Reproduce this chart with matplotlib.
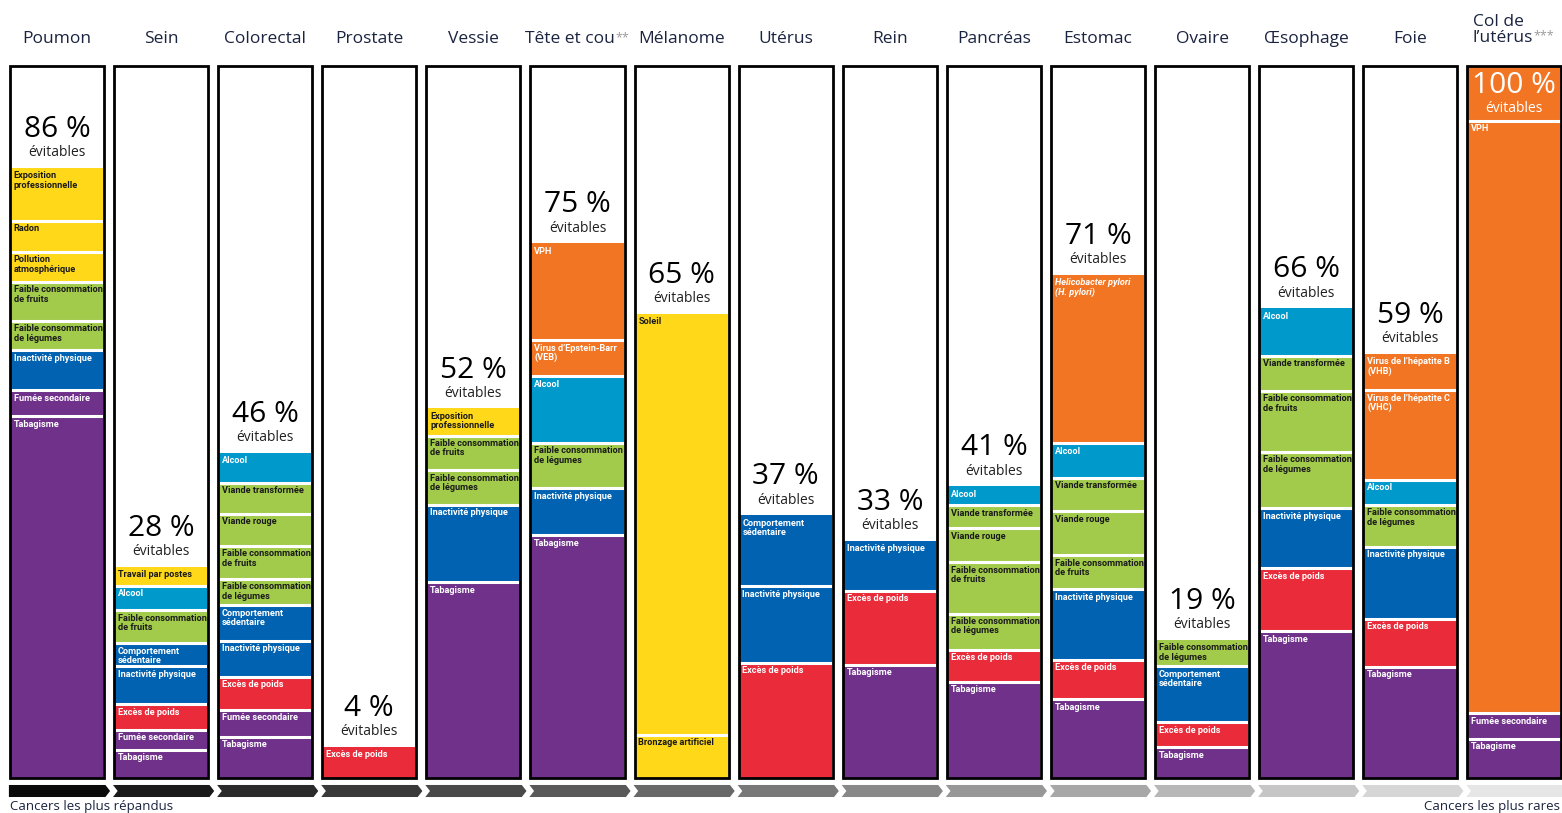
import matplotlib
matplotlib.use("Agg")
import matplotlib.pyplot as plt
from matplotlib.patches import Polygon, Rectangle
import numpy as np

cancers = ["Poumon", "Sein", "Colorectal", "Prostate", "Vessie", "Tête et cou",
           "Mélanome", "Utérus", "Rein", "Pancréas", "Estomac", "Ovaire",
           "Œsophage", "Foie", "Col de\nl’utérus"]
asterisques = ["", "", "", "", "", "**", "", "", "", "", "", "", "", "", "***"]
evitables = [86, 28, 46, 4, 52, 75, 65, 37, 33, 41, 71, 19, 66, 59, 100]

# facteurs de risque, de haut en bas dans chaque colonne
facteurs = [
    ["Exposition\nprofessionnelle", "Radon", "Pollution\natmosphérique",
     "Faible consommation\nde fruits", "Faible consommation\nde légumes",
     "Inactivité physique", "Fumée secondaire", "Tabagisme"],
    ["Travail par postes", "Alcool", "Faible consommation\nde fruits",
     "Comportement\nsédentaire", "Inactivité physique", "Excès de poids",
     "Fumée secondaire", "Tabagisme"],
    ["Alcool", "Viande transformée", "Viande rouge",
     "Faible consommation\nde fruits", "Faible consommation\nde légumes",
     "Comportement\nsédentaire", "Inactivité physique", "Excès de poids",
     "Fumée secondaire", "Tabagisme"],
    ["Excès de poids"],
    ["Exposition\nprofessionnelle", "Faible consommation\nde fruits",
     "Faible consommation\nde légumes", "Inactivité physique", "Tabagisme"],
    ["VPH", "Virus d’Epstein-Barr\n(VEB)", "Alcool",
     "Faible consommation\nde légumes", "Inactivité physique", "Tabagisme"],
    ["Soleil", "Bronzage artificiel"],
    ["Comportement\nsédentaire", "Inactivité physique", "Excès de poids"],
    ["Inactivité physique", "Excès de poids", "Tabagisme"],
    ["Alcool", "Viande transformée", "Viande rouge",
     "Faible consommation\nde fruits", "Faible consommation\nde légumes",
     "Excès de poids", "Tabagisme"],
    ["Helicobacter pylori\n(H. pylori)", "Alcool", "Viande transformée",
     "Viande rouge", "Faible consommation\nde fruits", "Inactivité physique",
     "Excès de poids", "Tabagisme"],
    ["Faible consommation\nde légumes", "Comportement\nsédentaire",
     "Excès de poids", "Tabagisme"],
    ["Alcool", "Viande transformée", "Faible consommation\nde fruits",
     "Faible consommation\nde légumes", "Inactivité physique",
     "Excès de poids", "Tabagisme"],
    ["Virus de l’hépatite B\n(VHB)", "Virus de l’hépatite C\n(VHC)", "Alcool",
     "Faible consommation\nde légumes", "Inactivité physique",
     "Excès de poids", "Tabagisme"],
    ["VPH", "Fumée secondaire", "Tabagisme"],
]

# hauteur de chaque bloc (points de %), meme ordre que facteurs
valeurs = [
    [7.4, 4.4, 4.2, 5.5, 4.1, 5.6, 3.7, 50.8],
    [2.7, 3.4, 4.7, 3.2, 5.3, 3.6, 2.8, 4.0],
    [4.2, 4.4, 4.5, 4.6, 3.7, 5.0, 5.1, 4.6, 3.8, 5.8],
    [4.4],
    [3.8, 4.9, 4.8, 10.9, 27.5],
    [13.6, 5.1, 9.3, 6.4, 6.6, 34.1],
    [59.1, 6.1],
    [10.0, 10.7, 16.2],
    [7.0, 10.4, 15.9],
    [2.7, 3.2, 4.8, 7.2, 5.1, 4.5, 13.5],
    [23.7, 4.8, 4.7, 6.2, 4.8, 9.9, 5.5, 11.1],
    [3.7, 7.9, 3.5, 4.3],
    [6.7, 4.9, 8.6, 7.9, 8.4, 8.9, 20.6],
    [5.1, 12.6, 3.5, 5.9, 10.1, 6.8, 15.6],
    [90.9, 3.6, 5.5],
]

# couleurs par groupe de facteurs
JAUNE, VERT, CYAN, BLEU = "#FFD81A", "#A2CB4C", "#0099CC", "#0062B1"
ROUGE, VIOLET, ORANGE = "#E92B3A", "#6F318A", "#F27523"
groupes = {
    JAUNE: ["Exposition\nprofessionnelle", "Radon", "Pollution\natmosphérique",
            "Travail par postes", "Soleil", "Bronzage artificiel"],
    VERT: ["Faible consommation\nde fruits", "Faible consommation\nde légumes",
           "Viande transformée", "Viande rouge"],
    CYAN: ["Alcool"],
    BLEU: ["Inactivité physique", "Comportement\nsédentaire"],
    ROUGE: ["Excès de poids"],
    VIOLET: ["Tabagisme", "Fumée secondaire"],
    ORANGE: ["VPH", "Virus d’Epstein-Barr\n(VEB)", "Helicobacter pylori\n(H. pylori)",
             "Virus de l’hépatite B\n(VHB)", "Virus de l’hépatite C\n(VHC)"],
}
couleur = {f: c for c, fs in groupes.items() for f in fs}

NAVY = "#1a2340"
TITRE_FONT = ["Open Sans", "DejaVu Sans"]
LABEL_FONT = ["Liberation Sans Narrow", "Roboto", "DejaVu Sans"]

# 1 colonne = 104.1 px, 1 % = 7.12 px
fig = plt.figure(figsize=(15.62, 8.13), dpi=100)
ax = fig.add_axes([0, 0, 1, 1])
ax.set_xlim(-57 / 104.1, (1562 - 57) / 104.1)
ax.set_ylim(-35 / 7.12, 778 / 7.12)
ax.axis("off")

for i, (facts, vals) in enumerate(zip(facteurs, valeurs)):
    vals = np.array(vals)
    tops = vals.sum() - np.concatenate([[0], np.cumsum(vals)[:-1]])
    bottoms = tops - vals
    ax.bar([i] * len(vals), vals, bottom=bottoms, width=0.89,
           color=[couleur[f] for f in facts], zorder=2)
    ax.hlines(bottoms[:-1], i - 0.445, i + 0.445, colors="white", lw=2.2, zorder=3)
    ax.add_patch(Rectangle((i - 0.452, 0), 0.904, 100, fill=False,
                           ec="black", lw=2, zorder=5))

    pleine = evitables[i] == 100
    if pleine:
        # bandeau du haut pour le 100 %
        ax.hlines(92.3, i - 0.445, i + 0.445, colors="white", lw=2.2, zorder=3)
        ax.text(i, 97.3, f"{evitables[i]} %", ha="center", va="center",
                fontsize=21.5, color="white", family=TITRE_FONT, zorder=4)
        ax.text(i, 94.1, "évitables", ha="center", va="center",
                fontsize=10, color="white", family=TITRE_FONT, zorder=4)
    else:
        ax.text(i, tops[0] + 5.4, f"{evitables[i]} %", ha="center", va="center",
                fontsize=21.5, color="black", family=TITRE_FONT, zorder=4)
        ax.text(i, tops[0] + 2.1, "évitables", ha="center", va="center",
                fontsize=10, color="#222222", family=TITRE_FONT, zorder=4)

    for k, (f, t) in enumerate(zip(facts, tops)):
        if pleine and k == 0:
            t = 92.3
        fond = couleur[f]
        tc = "#1a1a1a" if fond in (JAUNE, VERT) else "white"
        ax.text(i - 0.415, t - 0.5, f, ha="left", va="top", fontsize=6.6,
                fontweight="bold", color=tc, family=LABEL_FONT,
                style="italic" if "pylori" in f else "normal",
                linespacing=1.05, zorder=4)

    # titre de colonne
    if "\n" in cancers[i]:
        t = ax.text(i - 0.40, 105.1, cancers[i], ha="left", va="center",
                    fontsize=12.5, color=NAVY, family=TITRE_FONT, linespacing=1.0)
        pos = (1, 0.5)
    else:
        dx = -0.07 if asterisques[i] else 0
        t = ax.text(i + dx, 103.8, cancers[i], ha="center", va="center",
                    fontsize=12.5, color=NAVY, family=TITRE_FONT)
        pos = (1, 1)
    if asterisques[i]:
        ax.annotate(asterisques[i], xy=pos, xycoords=t, ha="left", va="top",
                    fontsize=9, color="#9a9a9a", family=TITRE_FONT)

# fleches du bas, du plus repandu au plus rare
gris = np.linspace(0.04, 0.9, len(cancers))
for i, g in enumerate(gris):
    xl, xr, tip = i - 0.462, i + 0.51, 0.045
    yt, yb = -0.98, -2.67
    ym = (yt + yb) / 2
    pts = [(xl, yt), (xr - tip, yt), (xr, ym), (xr - tip, yb), (xl, yb)]
    if i > 0:
        pts.append((xl + tip, ym))
    ax.add_patch(Polygon(pts, closed=True, facecolor=str(g), lw=0, zorder=2))

ax.text(-0.452, -3.95, "Cancers les plus répandus", ha="left", va="center",
        fontsize=9.5, color=NAVY, family=TITRE_FONT)
ax.text(14.44, -3.95, "Cancers les plus rares", ha="right", va="center",
        fontsize=9.5, color=NAVY, family=TITRE_FONT)

fig.savefig("out.png", dpi=100)
